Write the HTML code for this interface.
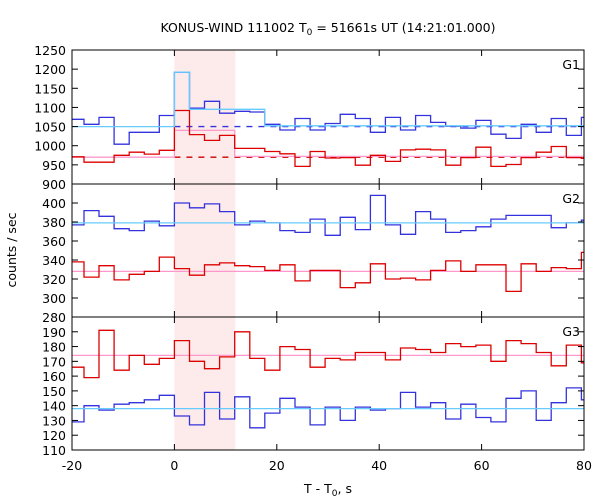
<!DOCTYPE html>
<html><head><meta charset="utf-8"><style>
body{margin:0;background:#fff}
svg{display:block;font-family:"DejaVu Sans","Liberation Sans",sans-serif}
</style></head><body>
<svg id="c" width="600" height="500">
<rect width="600" height="500" fill="#fff"/>
<text x="328" y="32" font-size="12.5" text-anchor="middle">KONUS-WIND 111002 T<tspan font-size="9" dy="3">0</tspan><tspan dy="-3"> = 51661s UT (14:21:01.000)</tspan></text>
<text x="328" y="493" font-size="12.5" text-anchor="middle">T - T<tspan font-size="9" dy="3">0</tspan><tspan dy="-3">, s</tspan></text>
<text transform="translate(16,250) rotate(-90)" font-size="12.5" text-anchor="middle">counts / sec</text>
<g id="g"></g>
</svg>
<script>
const binWidth = 2.944;
const firstBin = -7;
const g1Blue = [1069,1056,1074,1004,1035,1035,1079,1192,1098,1116,1085,1090,1088,1056,1041,1071,1041,1058,1082,1071,1035,1074,1041,1079,1061,1051,1046,1066,1030,1019,1056,1035,1071,1027,1074];
const g1Red = [971,957,957,975,983,978,988,1092,1029,1014,1027,993,993,985,979,946,985,968,969,949,975,959,989,991,989,949,969,996,946,951,969,983,998,969,967];
const g2Blue = [377,392,386,373,371,381,376,400,395,399,391,377,381,379,371,369,383,366,385,372,408,377,367,391,383,369,371,375,383,387,387,387,374,379,382];
const g2Red = [338,322,334,319,325,328,343,331,324,335,337,334,333,329,335,318,329,329,311,316,336,320,321,319,329,339,328,335,335,307,336,328,332,331,348];
const g3Red = [166,159,191,164,174,168,172,184,170,165,173,190,172,164,180,178,166,172,171,176,176,171,179,178,176,182,180,181,170,184,182,176,167,181,169];
const g3Blue = [129,140,137,141,142,144,147,133,127,149,131,146,125,135,145,139,127,139,130,139,137,138,149,139,142,131,141,132,129,145,150,130,142,152,144];
const g1Cyan = [[-20,0,1050],[0,2.944,1192],[2.944,17.66,1095],[17.66,80,1052]];
const g1Pink = [[-20,0,970],[0,11.78,1040],[11.78,80,972]];
const g2Cyan = [[-20,80,379]];
const g2Pink = [[-20,80,328]];
const g3Cyan = [[-20,80,138]];
const g3Pink = [[-20,80,174]];
const g1Dashed = [1050,970];
const xTicks = [-20,0,20,40,60,80];
const panelNames = ['G1','G2','G3'];
const panelRanges = [[900,1250],[280,420],[110,200]];
const panelTicks = [[900,950,1000,1050,1100,1150,1200,1250],[280,300,320,340,360,380,400],[110,120,130,140,150,160,170,180,190]];
const panelPix = [[50,184],[184,317],[317,450]];
const XL=72,XR=584;
const NS='http://www.w3.org/2000/svg';
const G=document.getElementById('g');
function X(t){return XL+(t+20)/100*(XR-XL);}
function mk(tag,attrs,parent){const e=document.createElementNS(NS,tag);for(const k in attrs)e.setAttribute(k,attrs[k]);(parent||G).appendChild(e);return e;}
const band=mk('rect',{x:X(0),y:50,width:X(11.9)-X(0),height:400,fill:'#fdeaea'});


function stepPath(vals,Y){let d='';vals.forEach((v,i)=>{const k=firstBin+i;const a=Math.max(-20,k*binWidth),b=Math.min(80,(k+1)*binWidth);if(b<=a)return;d+=(d?'L':'M')+X(a).toFixed(1)+','+Y(v).toFixed(1)+'H'+X(b).toFixed(1);});return d;}
function segPath(segs,Y){let d='';segs.forEach(s=>{d+=(d?'L':'M')+X(s[0]).toFixed(1)+','+Y(s[2]).toFixed(1)+'H'+X(s[1]).toFixed(1);});return d;}
const series=[[g1Red,g1Blue,g1Pink,g1Cyan],[g2Red,g2Blue,g2Pink,g2Cyan],[g3Red,g3Blue,g3Pink,g3Cyan]];
for(let p=0;p<3;p++){
  const [lo,hi]=panelRanges[p],[top,bot]=panelPix[p];
  const Y=v=>bot-(v-lo)/(hi-lo)*(bot-top);
  const [red,blue,pink,cyan]=series[p];
  const pg=mk('g',{});
  
  
  if(p===0){
    const d1=mk('line',{x1:X(0),x2:XR,y1:Y(g1Dashed[0]),y2:Y(g1Dashed[0]),stroke:'#3333dd','stroke-width':1.3,'stroke-dasharray':'6,6'},pg);
    
    
    const d2=mk('line',{x1:X(0),x2:XR,y1:Y(g1Dashed[1]),y2:Y(g1Dashed[1]),stroke:'#cc0000','stroke-width':1.3,'stroke-dasharray':'6,6'},pg);
    
    
  }
  const pp=mk('path',{d:segPath(pink,Y),fill:'none',stroke:'#ff99cc','stroke-width':1.3},pg);
  
  
  const rp=mk('path',{d:stepPath(red,Y),fill:'none',stroke:'#dd0000','stroke-width':1.3},pg);
  
  
  const bp=mk('path',{d:stepPath(blue,Y),fill:'none',stroke:'#3333dd','stroke-width':1.3},pg);
  
  
  const cp=mk('path',{d:segPath(cyan,Y),fill:'none',stroke:'#66ccff','stroke-width':1.3},pg);
  
  
  const fr=mk('rect',{x:XL,y:top,width:XR-XL,height:bot-top,fill:'none',stroke:'#000','stroke-width':1},pg);
  
  
  panelTicks[p].forEach(v=>{
    const y=Y(v);
    mk('line',{x1:XL,x2:XL+6,y1:y,y2:y,stroke:'#000'},pg);
    mk('line',{x1:XR,x2:XR-6,y1:y,y2:y,stroke:'#000'},pg);
    const t=mk('text',{x:XL-6,y:y+5,'font-size':12.5,'text-anchor':'end'},pg);
    t.textContent=v;
    
    
  });
  xTicks.forEach(v=>{
    const x=X(v);
    mk('line',{x1:x,x2:x,y1:top,y2:top+6,stroke:'#000'},pg);
    mk('line',{x1:x,x2:x,y1:bot,y2:bot-6,stroke:'#000'},pg);
  });
  const lb=mk('text',{x:XR-4,y:top+19,'font-size':12.5,'text-anchor':'end'},pg);
  lb.textContent=panelNames[p];
  
  
}
xTicks.forEach(v=>{
  const t=mk('text',{x:X(v),y:470,'font-size':12.5,'text-anchor':'middle'});
  t.textContent=v;
  
  
});
</script>
</body></html>
